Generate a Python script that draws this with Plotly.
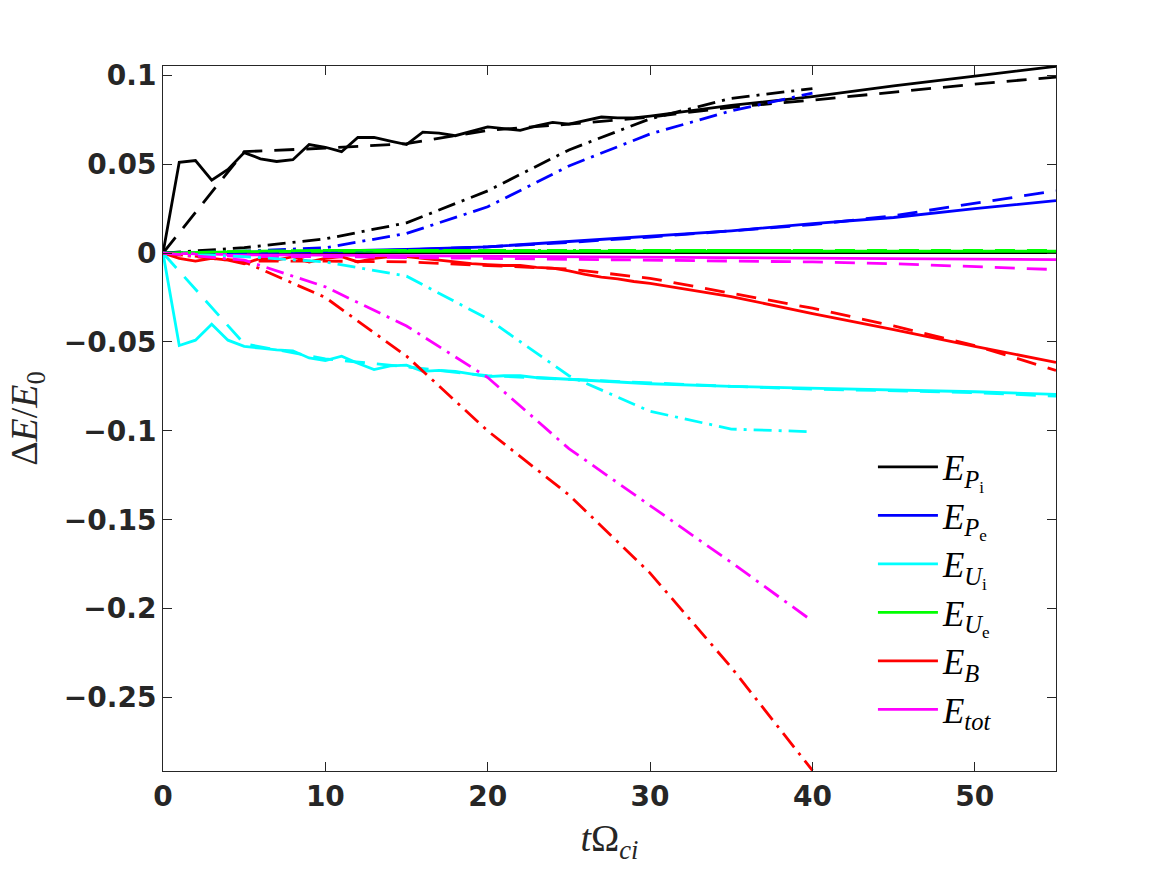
import plotly.graph_objects as go

# ---------------- data ----------------
t_solid = list(range(0, 31)) + [35, 40, 45, 50, 55]
t_coarse = [0, 5, 10, 15, 20, 25, 30, 35, 40, 45, 50, 55]
t_dd = [0, 5, 10, 15, 20, 25, 30, 35, 40]

# solid lines (noisy ones sampled on t_solid)
EPi_solid = [0, 0.051, 0.052, 0.041, 0.047, 0.0565, 0.053, 0.0515, 0.0525, 0.061,
             0.0595, 0.057, 0.065, 0.065, 0.063, 0.061, 0.068, 0.0675, 0.066, 0.0685,
             0.071, 0.070, 0.069, 0.0715, 0.0735, 0.0725, 0.0745, 0.0765, 0.076, 0.076,
             0.077, 0.083, 0.088, 0.094, 0.0995, 0.105]
EUi_solid = [0, -0.052, -0.049, -0.040, -0.049, -0.0525, -0.0535, -0.0545, -0.055, -0.059,
             -0.0605, -0.058, -0.062, -0.0655, -0.0635, -0.063, -0.0665, -0.066, -0.0665, -0.068,
             -0.0695, -0.069, -0.069, -0.070, -0.0705, -0.071, -0.0715, -0.072, -0.0725, -0.073,
             -0.0735, -0.075, -0.076, -0.077, -0.078, -0.0795]
EB_solid = [0, -0.003, -0.0045, -0.003, -0.004, -0.006, -0.003, -0.004, -0.002, -0.005,
            -0.003, -0.002, -0.005, -0.003, -0.002, -0.002, -0.003, -0.004, -0.005, -0.006,
            -0.0065, -0.007, -0.007, -0.008, -0.0085, -0.010, -0.012, -0.0135, -0.0145, -0.016,
            -0.017, -0.0245, -0.034, -0.043, -0.0525, -0.0615]
# smooth solid lines (sampled on t_coarse)
EPe_solid = [0, 0.0003, 0.001, 0.002, 0.0035, 0.0065, 0.0095, 0.0125, 0.0165, 0.020, 0.025, 0.0295]
EUe_solid = [0, 0.0008, 0.001, 0.001, 0.001, 0.001, 0.001, 0.001, 0.001, 0.001, 0.001, 0.001]
Etot_solid = [0, -0.001, -0.0012, -0.0015, -0.0017, -0.002, -0.0022, -0.0027, -0.003, -0.0032, -0.0035, -0.0037]

# dashed lines (t_coarse)
EPi_dash = [0, 0.057, 0.059, 0.0615, 0.069, 0.0725, 0.0765, 0.082, 0.086, 0.0905, 0.095, 0.099]
EPe_dash = [0, 0.0002, 0.0008, 0.0018, 0.0035, 0.006, 0.009, 0.0125, 0.016, 0.021, 0.028, 0.035]
EUi_dash = [0, -0.051, -0.0595, -0.064, -0.069, -0.071, -0.073, -0.075, -0.0765, -0.0775, -0.0785, -0.0805]
EUe_dash = [0, 0.001, 0.0015, 0.0015, 0.0015, 0.0015, 0.0015, 0.0015, 0.0015, 0.0015, 0.0015, 0.0015]
EB_dash = [0, -0.0045, -0.0045, -0.005, -0.007, -0.009, -0.0142, -0.0225, -0.031, -0.041, -0.052, -0.066]
Etot_dash = [0, -0.002, -0.002, -0.0025, -0.003, -0.0035, -0.004, -0.0045, -0.005, -0.006, -0.0075, -0.0093]

# dash-dot lines (t_dd)
EPi_dd = [0, 0.003, 0.008, 0.017, 0.035, 0.058, 0.0755, 0.087, 0.0925]
EPe_dd = [0, 0.001, 0.003, 0.011, 0.026, 0.049, 0.067, 0.080, 0.090]
EUi_dd = [0, -0.002, -0.005, -0.013, -0.037, -0.069, -0.089, -0.099, -0.1005]
EUe_dd = [0, 0.001, 0.0015, 0.0015, 0.0015, 0.0015, 0.0015, 0.0015, 0.0015]
EB_dd = [0, -0.005, -0.025, -0.058, -0.100, -0.136, -0.180, -0.233, -0.291]
Etot_dd = [0, -0.004, -0.019, -0.041, -0.070, -0.110, -0.142, -0.174, -0.207]

names = ["<i>E</i><sub><i>P</i><sub>i</sub></sub>",
         "<i>E</i><sub><i>P</i><sub>e</sub></sub>",
         "<i>E</i><sub><i>U</i><sub>i</sub></sub>",
         "<i>E</i><sub><i>U</i><sub>e</sub></sub>",
         "<i>E</i><sub><i>B</i></sub>",
         "<i>E</i><sub><i>tot</i></sub>"]
colors = ["#000000", "#0000ff", "#00ffff", "#00ff00", "#ff0000", "#ff00ff"]

xticks = [0, 10, 20, 30, 40, 50]
yticks = [-0.25, -0.2, -0.15, -0.1, -0.05, 0, 0.05, 0.1]
yticklabels = ["\u22120.25", "\u22120.2", "\u22120.15", "\u22120.1", "\u22120.05", "0", "0.05", "0.1"]

solid = [(t_solid, EPi_solid), (t_coarse, EPe_solid), (t_solid, EUi_solid),
         (t_coarse, EUe_solid), (t_solid, EB_solid), (t_coarse, Etot_solid)]
dashed = [EPi_dash, EPe_dash, EUi_dash, EUe_dash, EB_dash, Etot_dash]
dashdot = [EPi_dd, EPe_dd, EUi_dd, EUe_dd, EB_dd, Etot_dd]

LW = 2.8
DASH = "20px,12px"
DASHDOT = "18px,7px,3px,7px"

fig = go.Figure()
for i in range(6):
    tx, ty = solid[i]
    fig.add_trace(go.Scatter(x=tx, y=ty, mode="lines", name=names[i],
                             line=dict(color=colors[i], width=LW),
                             legendgroup=str(i), showlegend=True))
for i in range(6):
    fig.add_trace(go.Scatter(x=t_coarse, y=dashed[i], mode="lines",
                             line=dict(color=colors[i], width=LW, dash=DASH),
                             showlegend=False))
for i in range(6):
    fig.add_trace(go.Scatter(x=t_dd, y=dashdot[i], mode="lines",
                             line=dict(color=colors[i], width=LW, dash=DASHDOT),
                             showlegend=False))

axcol = "#262626"
tickfont = dict(family="DejaVu Sans", size=28, color=axcol, weight="bold")

fig.update_layout(
    width=1167, height=875,
    paper_bgcolor="white", plot_bgcolor="white",
    margin=dict(l=163, r=111, t=66, b=104),
    showlegend=True,
    legend=dict(x=0.795, y=0.473, xanchor="left", yanchor="top",
                bgcolor="rgba(255,255,255,0)", borderwidth=0,
                font=dict(family="Liberation Serif", size=35, color="black"),
                itemwidth=60, tracegroupgap=11, traceorder="normal"),
    xaxis=dict(range=[0, 55], tickvals=xticks, ticktext=[str(v) for v in xticks],
               ticks="inside", ticklen=9, tickwidth=1, tickcolor=axcol,
               showline=True, linecolor=axcol, linewidth=1, mirror="ticks",
               showgrid=False, zeroline=False, tickfont=tickfont,
               title=dict(text="<i>t</i>\u03a9<sub><i>ci</i></sub>",
                          font=dict(family="Liberation Serif", size=38, color=axcol),
                          standoff=12)),
    yaxis=dict(range=[-0.2913, 0.1052], tickvals=yticks, ticktext=yticklabels,
               ticks="inside", ticklen=9, tickwidth=1, tickcolor=axcol,
               showline=True, linecolor=axcol, linewidth=1, mirror="ticks",
               showgrid=False, zeroline=True, zerolinecolor="black", zerolinewidth=2,
               tickfont=tickfont,
               title=dict(text="\u0394<i>E</i>/<i>E</i><sub>0</sub>",
                          font=dict(family="Liberation Serif", size=38, color=axcol),
                          standoff=14)),
)

fig.write_html("out.html")
